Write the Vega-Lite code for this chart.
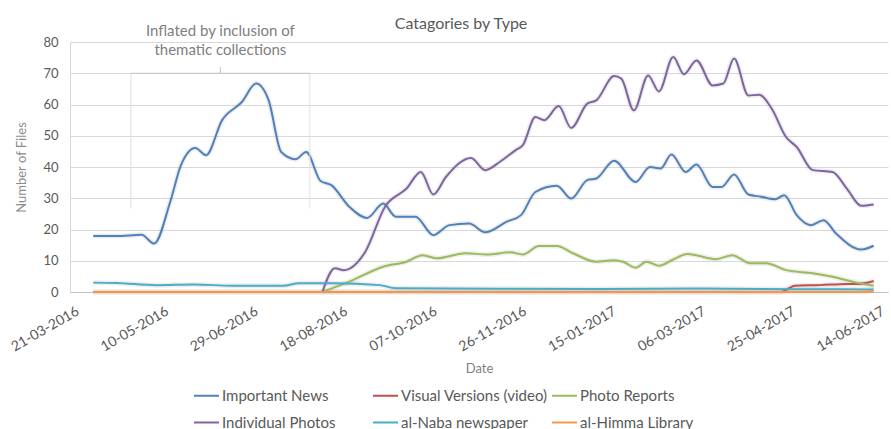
{
  "$schema": "https://vega.github.io/schema/vega-lite/v6.json",
  "autosize": {"type": "none"},
  "padding": {"left": 70, "top": 42, "right": 3, "bottom": 137},
  "width": 818,
  "height": 250,
  "background": "white",
  "config": {
    "view": {"stroke": null},
    "font": "Lato",
    "axis": {"labelFont": "Lato", "titleFont": "Lato", "titleFontWeight": "normal"}
  },
  "title": {
    "text": "Catagories by Type",
    "font": "Lato",
    "fontSize": 16,
    "fontWeight": "normal",
    "color": "#595959",
    "anchor": "middle",
    "frame": "group",
    "baseline": "alphabetic",
    "offset": -21,
    "dx": -18
  },
  "datasets": {
    "series": [
      {"date": "2016-04-03", "category": "Important News", "files": 17.9},
      {"date": "2016-04-16", "category": "Important News", "files": 17.9},
      {"date": "2016-04-30", "category": "Important News", "files": 18.3},
      {"date": "2016-05-07", "category": "Important News", "files": 15.5},
      {"date": "2016-05-16", "category": "Important News", "files": 28.9},
      {"date": "2016-05-22", "category": "Important News", "files": 40.6},
      {"date": "2016-05-30", "category": "Important News", "files": 46.1},
      {"date": "2016-06-05", "category": "Important News", "files": 43.8},
      {"date": "2016-06-14", "category": "Important News", "files": 55},
      {"date": "2016-06-25", "category": "Important News", "files": 60.8},
      {"date": "2016-07-03", "category": "Important News", "files": 66.7},
      {"date": "2016-07-10", "category": "Important News", "files": 61.3},
      {"date": "2016-07-17", "category": "Important News", "files": 44.8},
      {"date": "2016-07-25", "category": "Important News", "files": 42.5},
      {"date": "2016-07-31", "category": "Important News", "files": 44.8},
      {"date": "2016-08-08", "category": "Important News", "files": 35.5},
      {"date": "2016-08-14", "category": "Important News", "files": 34.2},
      {"date": "2016-08-24", "category": "Important News", "files": 27.3},
      {"date": "2016-09-03", "category": "Important News", "files": 23.7},
      {"date": "2016-09-12", "category": "Important News", "files": 28.3},
      {"date": "2016-09-19", "category": "Important News", "files": 24.1},
      {"date": "2016-09-30", "category": "Important News", "files": 24.1},
      {"date": "2016-10-10", "category": "Important News", "files": 18.2},
      {"date": "2016-10-19", "category": "Important News", "files": 21.4},
      {"date": "2016-10-30", "category": "Important News", "files": 21.9},
      {"date": "2016-11-08", "category": "Important News", "files": 19.1},
      {"date": "2016-11-20", "category": "Important News", "files": 22.5},
      {"date": "2016-11-28", "category": "Important News", "files": 24.6},
      {"date": "2016-12-06", "category": "Important News", "files": 32},
      {"date": "2016-12-18", "category": "Important News", "files": 34},
      {"date": "2016-12-26", "category": "Important News", "files": 29.9},
      {"date": "2017-01-04", "category": "Important News", "files": 35.8},
      {"date": "2017-01-09", "category": "Important News", "files": 36.3},
      {"date": "2017-01-19", "category": "Important News", "files": 42},
      {"date": "2017-01-31", "category": "Important News", "files": 35.2},
      {"date": "2017-02-08", "category": "Important News", "files": 40},
      {"date": "2017-02-14", "category": "Important News", "files": 39.5},
      {"date": "2017-02-20", "category": "Important News", "files": 44},
      {"date": "2017-02-28", "category": "Important News", "files": 38.4},
      {"date": "2017-03-06", "category": "Important News", "files": 40.8},
      {"date": "2017-03-15", "category": "Important News", "files": 33.6},
      {"date": "2017-03-20", "category": "Important News", "files": 33.6},
      {"date": "2017-03-27", "category": "Important News", "files": 37.6},
      {"date": "2017-04-04", "category": "Important News", "files": 31.2},
      {"date": "2017-04-11", "category": "Important News", "files": 30.5},
      {"date": "2017-04-19", "category": "Important News", "files": 29.7},
      {"date": "2017-04-24", "category": "Important News", "files": 31},
      {"date": "2017-05-01", "category": "Important News", "files": 24.6},
      {"date": "2017-05-09", "category": "Important News", "files": 21.4},
      {"date": "2017-05-16", "category": "Important News", "files": 23},
      {"date": "2017-05-23", "category": "Important News", "files": 18.7},
      {"date": "2017-06-06", "category": "Important News", "files": 13.6},
      {"date": "2017-06-13", "category": "Important News", "files": 14.8},

      {"date": "2016-04-03", "category": "Visual Versions (video)", "files": 0},
      {"date": "2017-04-22", "category": "Visual Versions (video)", "files": 0},
      {"date": "2017-04-30", "category": "Visual Versions (video)", "files": 2},
      {"date": "2017-05-14", "category": "Visual Versions (video)", "files": 2.2},
      {"date": "2017-05-29", "category": "Visual Versions (video)", "files": 2.6},
      {"date": "2017-06-05", "category": "Visual Versions (video)", "files": 2.6},
      {"date": "2017-06-13", "category": "Visual Versions (video)", "files": 3.5},

      {"date": "2016-08-09", "category": "Photo Reports", "files": 0},
      {"date": "2016-08-24", "category": "Photo Reports", "files": 3.3},
      {"date": "2016-09-12", "category": "Photo Reports", "files": 8.1},
      {"date": "2016-09-25", "category": "Photo Reports", "files": 9.7},
      {"date": "2016-10-04", "category": "Photo Reports", "files": 11.8},
      {"date": "2016-10-12", "category": "Photo Reports", "files": 10.8},
      {"date": "2016-10-28", "category": "Photo Reports", "files": 12.4},
      {"date": "2016-11-09", "category": "Photo Reports", "files": 12},
      {"date": "2016-11-22", "category": "Photo Reports", "files": 12.7},
      {"date": "2016-11-29", "category": "Photo Reports", "files": 12},
      {"date": "2016-12-08", "category": "Photo Reports", "files": 14.7},
      {"date": "2016-12-18", "category": "Photo Reports", "files": 14.7},
      {"date": "2016-12-27", "category": "Photo Reports", "files": 12.4},
      {"date": "2017-01-09", "category": "Photo Reports", "files": 9.7},
      {"date": "2017-01-19", "category": "Photo Reports", "files": 10.2},
      {"date": "2017-01-24", "category": "Photo Reports", "files": 9.7},
      {"date": "2017-01-31", "category": "Photo Reports", "files": 7.8},
      {"date": "2017-02-06", "category": "Photo Reports", "files": 9.7},
      {"date": "2017-02-13", "category": "Photo Reports", "files": 8.4},
      {"date": "2017-02-21", "category": "Photo Reports", "files": 10.4},
      {"date": "2017-03-01", "category": "Photo Reports", "files": 12.2},
      {"date": "2017-03-17", "category": "Photo Reports", "files": 10.5},
      {"date": "2017-03-26", "category": "Photo Reports", "files": 11.8},
      {"date": "2017-04-05", "category": "Photo Reports", "files": 9.2},
      {"date": "2017-04-14", "category": "Photo Reports", "files": 9.2},
      {"date": "2017-04-25", "category": "Photo Reports", "files": 7},
      {"date": "2017-05-10", "category": "Photo Reports", "files": 6},
      {"date": "2017-05-21", "category": "Photo Reports", "files": 4.9},
      {"date": "2017-06-05", "category": "Photo Reports", "files": 2.8},
      {"date": "2017-06-13", "category": "Photo Reports", "files": 2},

      {"date": "2016-08-09", "category": "Individual Photos", "files": 0},
      {"date": "2016-08-16", "category": "Individual Photos", "files": 7.6},
      {"date": "2016-08-21", "category": "Individual Photos", "files": 7},
      {"date": "2016-09-02", "category": "Individual Photos", "files": 12.9},
      {"date": "2016-09-13", "category": "Individual Photos", "files": 27.3},
      {"date": "2016-09-25", "category": "Individual Photos", "files": 33.1},
      {"date": "2016-10-03", "category": "Individual Photos", "files": 38.4},
      {"date": "2016-10-10", "category": "Individual Photos", "files": 31.2},
      {"date": "2016-10-17", "category": "Individual Photos", "files": 36.8},
      {"date": "2016-10-31", "category": "Individual Photos", "files": 42.9},
      {"date": "2016-11-08", "category": "Individual Photos", "files": 39},
      {"date": "2016-11-16", "category": "Individual Photos", "files": 41.6},
      {"date": "2016-11-25", "category": "Individual Photos", "files": 45.4},
      {"date": "2016-11-29", "category": "Individual Photos", "files": 47},
      {"date": "2016-12-06", "category": "Individual Photos", "files": 56},
      {"date": "2016-12-11", "category": "Individual Photos", "files": 55},
      {"date": "2016-12-19", "category": "Individual Photos", "files": 59.5},
      {"date": "2016-12-26", "category": "Individual Photos", "files": 52.5},
      {"date": "2017-01-04", "category": "Individual Photos", "files": 60.3},
      {"date": "2017-01-09", "category": "Individual Photos", "files": 61.3},
      {"date": "2017-01-19", "category": "Individual Photos", "files": 69.1},
      {"date": "2017-01-23", "category": "Individual Photos", "files": 68.3},
      {"date": "2017-01-30", "category": "Individual Photos", "files": 58.1},
      {"date": "2017-02-07", "category": "Individual Photos", "files": 69.3},
      {"date": "2017-02-13", "category": "Individual Photos", "files": 64.2},
      {"date": "2017-02-21", "category": "Individual Photos", "files": 75.2},
      {"date": "2017-02-27", "category": "Individual Photos", "files": 69.7},
      {"date": "2017-03-06", "category": "Individual Photos", "files": 74.1},
      {"date": "2017-03-15", "category": "Individual Photos", "files": 66.1},
      {"date": "2017-03-21", "category": "Individual Photos", "files": 66.7},
      {"date": "2017-03-27", "category": "Individual Photos", "files": 74.7},
      {"date": "2017-04-04", "category": "Individual Photos", "files": 62.9},
      {"date": "2017-04-10", "category": "Individual Photos", "files": 63.1},
      {"date": "2017-04-17", "category": "Individual Photos", "files": 58.7},
      {"date": "2017-04-25", "category": "Individual Photos", "files": 49.6},
      {"date": "2017-05-01", "category": "Individual Photos", "files": 46.4},
      {"date": "2017-05-10", "category": "Individual Photos", "files": 39},
      {"date": "2017-05-21", "category": "Individual Photos", "files": 38.4},
      {"date": "2017-05-29", "category": "Individual Photos", "files": 33.1},
      {"date": "2017-06-06", "category": "Individual Photos", "files": 27.6},
      {"date": "2017-06-13", "category": "Individual Photos", "files": 28},

      {"date": "2016-04-03", "category": "al-Naba newspaper", "files": 3.0},
      {"date": "2016-04-16", "category": "al-Naba newspaper", "files": 2.9},
      {"date": "2016-05-08", "category": "al-Naba newspaper", "files": 2.2},
      {"date": "2016-05-29", "category": "al-Naba newspaper", "files": 2.4},
      {"date": "2016-06-20", "category": "al-Naba newspaper", "files": 2.0},
      {"date": "2016-07-18", "category": "al-Naba newspaper", "files": 2.0},
      {"date": "2016-07-27", "category": "al-Naba newspaper", "files": 2.8},
      {"date": "2016-08-15", "category": "al-Naba newspaper", "files": 2.8},
      {"date": "2016-09-10", "category": "al-Naba newspaper", "files": 2.2},
      {"date": "2016-09-19", "category": "al-Naba newspaper", "files": 1.2},
      {"date": "2016-10-19", "category": "al-Naba newspaper", "files": 1.1},
      {"date": "2017-01-11", "category": "al-Naba newspaper", "files": 1.0},
      {"date": "2017-03-08", "category": "al-Naba newspaper", "files": 1.1},
      {"date": "2017-05-03", "category": "al-Naba newspaper", "files": 0.9},
      {"date": "2017-06-13", "category": "al-Naba newspaper", "files": 0.8},

      {"date": "2016-04-03", "category": "al-Himma Library", "files": 0},
      {"date": "2017-06-05", "category": "al-Himma Library", "files": 0},
      {"date": "2017-06-13", "category": "al-Himma Library", "files": 0.3}
    ],
    "notes": [
      {"date": "2016-06-13", "files": 83.6, "text": "Inflated by inclusion of"},
      {"date": "2016-06-13", "files": 77.6, "text": "thematic collections"}
    ],
    "bracket": [
      {"date": "2016-04-24", "date2": "2016-08-02", "files": 70, "files2": 70, "part": "bar"},
      {"date": "2016-06-13", "date2": "2016-06-13", "files": 70, "files2": 72, "part": "bar"},
      {"date": "2016-04-24", "date2": "2016-04-24", "files": 26.7, "files2": 70, "part": "leg"},
      {"date": "2016-08-02", "date2": "2016-08-02", "files": 26.7, "files2": 70, "part": "leg"}
    ]
  },
  "encoding": {
    "x": {
      "field": "date",
      "type": "temporal",
      "scale": {"type": "utc", "domain": [{"year": 2016, "month": 3, "date": 21, "utc": true}, {"year": 2017, "month": 6, "date": 21, "utc": true}]},
      "axis": {
        "values": [
          {"year": 2016, "month": 3, "date": 21, "utc": true},
          {"year": 2016, "month": 5, "date": 10, "utc": true},
          {"year": 2016, "month": 6, "date": 29, "utc": true},
          {"year": 2016, "month": 8, "date": 18, "utc": true},
          {"year": 2016, "month": 10, "date": 7, "utc": true},
          {"year": 2016, "month": 11, "date": 26, "utc": true},
          {"year": 2017, "month": 1, "date": 15, "utc": true},
          {"year": 2017, "month": 3, "date": 6, "utc": true},
          {"year": 2017, "month": 4, "date": 25, "utc": true},
          {"year": 2017, "month": 6, "date": 14, "utc": true}
        ],
        "format": "%d-%m-%Y",
        "labelAngle": -30,
        "labelAlign": "right",
        "labelBaseline": "top",
        "labelFontSize": 14,
        "labelColor": "#595959",
        "labelPadding": 12,
        "labelOffset": 4,
        "labelOverlap": false,
        "labelFlush": false,
        "grid": false,
        "ticks": false,
        "domainColor": "#bfbfbf",
        "title": "Date",
        "titleFontSize": 13,
        "titleColor": "#808080",
        "titlePadding": 9
      }
    },
    "y": {
      "field": "files",
      "type": "quantitative",
      "scale": {"domain": [0, 80], "nice": false},
      "axis": {
        "values": [0, 10, 20, 30, 40, 50, 60, 70, 80],
        "labelOverlap": false,
        "labelFontSize": 13,
        "labelColor": "#595959",
        "labelPadding": 12,
        "ticks": false,
        "domainColor": "#d9d9d9",
        "gridColor": "#d9d9d9",
        "title": "Number of Files",
        "titleFontSize": 13,
        "titleColor": "#8c8c8c",
        "titlePadding": 14
      }
    }
  },
  "layer": [
    {
      "data": {"name": "series"},
      "mark": {"type": "line", "interpolate": "monotone", "strokeWidth": 5, "opacity": 0.12, "color": "#777777"},
      "encoding": {
        "detail": {"field": "category", "type": "nominal"}
      }
    },
    {
      "data": {"name": "series"},
      "mark": {"type": "line", "interpolate": "monotone", "strokeWidth": 2},
      "encoding": {
        "color": {
          "field": "category",
          "type": "nominal",
          "sort": null,
          "scale": {
            "domain": ["Important News", "Visual Versions (video)", "Photo Reports", "Individual Photos", "al-Naba newspaper", "al-Himma Library"],
            "range": ["#4F81BD", "#C0504D", "#9BBB59", "#8064A2", "#4BACC6", "#F79646"]
          },
          "legend": {
            "title": null,
            "orient": "none",
            "legendX": 123,
            "legendY": 340,
            "direction": "horizontal",
            "columns": 3,
            "gridAlign": "all",
            "symbolType": "stroke",
            "symbolSize": 625,
            "symbolStrokeWidth": 2,
            "labelFont": "Lato",
            "labelFontSize": 15,
            "labelColor": "#595959",
            "labelOffset": 2,
            "labelLimit": 300,
            "columnPadding": 0,
            "rowPadding": 5
          }
        }
      }
    },
    {
      "data": {"name": "bracket"},
      "transform": [{"filter": {"field": "part", "equal": "leg"}}],
      "mark": {"type": "rule", "strokeWidth": 1, "color": "#e0e0e0"},
      "encoding": {
        "x2": {"field": "date2"},
        "y2": {"field": "files2"}
      }
    },
    {
      "data": {"name": "bracket"},
      "transform": [{"filter": {"field": "part", "equal": "bar"}}],
      "mark": {"type": "rule", "strokeWidth": 1, "color": "#c4c4c4"},
      "encoding": {
        "x2": {"field": "date2"},
        "y2": {"field": "files2"}
      }
    },
    {
      "data": {"name": "notes"},
      "mark": {"type": "text", "font": "Lato", "fontSize": 15, "color": "#808080", "baseline": "middle", "align": "center"},
      "encoding": {
        "text": {"field": "text", "type": "nominal"}
      }
    }
  ]
}
